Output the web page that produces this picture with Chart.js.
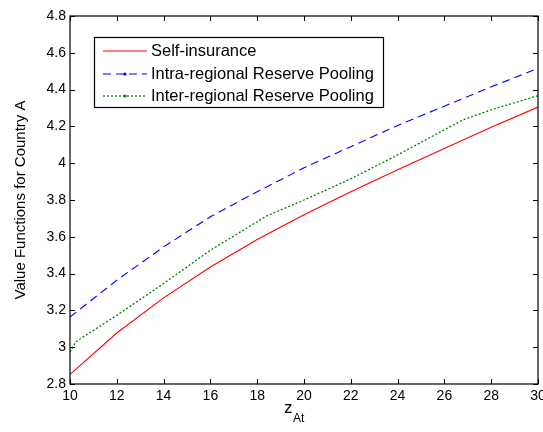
<!DOCTYPE html>
<html><head><meta charset="utf-8">
<script src="https://cdn.jsdelivr.net/npm/chart.js@4"></script>
<style>html,body{margin:0;padding:0;background:#fff}#w{width:543px;height:432px}</style>
</head><body><div id="w"><canvas id="c" width="543" height="432"></canvas></div>
<script>
const selfX = [10, 12, 14, 16, 18, 20, 22, 24, 26, 28, 30];
const selfY = [2.852, 3.077, 3.268, 3.436, 3.585, 3.72, 3.845, 3.965, 4.08, 4.195, 4.305];
const intraX = [10, 12, 14, 16, 18, 20, 22, 24, 26, 28, 30];
const intraY = [3.164, 3.364, 3.545, 3.709, 3.845, 3.975, 4.09, 4.205, 4.31, 4.415, 4.515];
const interX = [10, 10.25, 12, 14, 16, 18.4, 20, 22, 24, 26.8, 28, 30];
const interY = [2.973, 3.03, 3.173, 3.346, 3.527, 3.713, 3.80, 3.915, 4.045, 4.236, 4.29, 4.367];
const xTicks = [10, 12, 14, 16, 18, 20, 22, 24, 26, 28, 30];
const yTicks = [2.8, 3, 3.2, 3.4, 3.6, 3.8, 4, 4.2, 4.4, 4.6, 4.8];
const seriesNames = ['Self-insurance', 'Intra-regional Reserve Pooling', 'Inter-regional Reserve Pooling'];
const yTitle = 'Value Functions for Country A';

const FONT = '"Liberation Sans", Arial, sans-serif';
const pts = (xs, ys) => xs.map((x, i) => ({x, y: ys[i]}));

const styles = [
  {color: '#ff0000', dash: [], width: 1.1, dot: false},
  {color: '#0000ff', dash: [8, 5], width: 1.1, dot: true},
  {color: '#008000', dash: [2, 2], width: 1.3, dot: true}
];

const framePlugin = {
  id: 'frame',
  afterDraw(chart) {
    const ctx = chart.ctx, a = chart.chartArea;
    const xs = chart.scales.x, ys = chart.scales.y;
    ctx.save();
    ctx.strokeStyle = '#000';
    ctx.lineWidth = 1.2;
    ctx.strokeRect(a.left, a.top, a.right - a.left, a.bottom - a.top);
    ctx.lineWidth = 1;
    ctx.beginPath();
    const tl = 5;
    xTicks.forEach(v => {
      const px = Math.round(xs.getPixelForValue(v)) + 0.5;
      ctx.moveTo(px, a.bottom); ctx.lineTo(px, a.bottom - tl);
      ctx.moveTo(px, a.top); ctx.lineTo(px, a.top + tl);
    });
    yTicks.forEach(v => {
      const py = Math.round(ys.getPixelForValue(v)) + 0.5;
      ctx.moveTo(a.left, py); ctx.lineTo(a.left + tl, py);
      ctx.moveTo(a.right, py); ctx.lineTo(a.right - tl, py);
    });
    ctx.stroke();
    // x title with subscript
    ctx.fillStyle = '#000';
    ctx.textBaseline = 'alphabetic';
    ctx.textAlign = 'left';
    ctx.font = '17px ' + FONT;
    const cx = 284;
    ctx.fillText('z', cx, 413);
    ctx.font = '12px ' + FONT;
    ctx.fillText('At', cx + 9, 422);
    // y title
    ctx.save();
    ctx.translate(25, (a.top + a.bottom) / 2);
    ctx.rotate(-Math.PI / 2);
    ctx.textAlign = 'center';
    ctx.font = '15px ' + FONT;
    ctx.fillText(yTitle, 0, 0);
    ctx.restore();
    // legend
    const bx = 94.5, by = 37.5, bw = 289, bh = 70;
    ctx.fillStyle = '#fff';
    ctx.fillRect(bx, by, bw, bh);
    ctx.strokeStyle = '#000';
    ctx.lineWidth = 1.2;
    ctx.strokeRect(bx, by, bw, bh);
    const rows = [51, 74, 96];
    seriesNames.forEach((n, i) => {
      const s = styles[i];
      ctx.save();
      ctx.strokeStyle = s.color;
      ctx.lineWidth = s.width;
      ctx.setLineDash(s.dash);
      ctx.beginPath();
      ctx.moveTo(103, rows[i]); ctx.lineTo(147, rows[i]);
      ctx.stroke();
      ctx.restore();
      if (s.dot) {
        ctx.fillStyle = s.color;
        ctx.beginPath(); ctx.arc(125, rows[i], 1.6, 0, Math.PI * 2); ctx.fill();
      }
      ctx.fillStyle = '#000';
      ctx.font = '16.5px ' + FONT;
      ctx.textAlign = 'left';
      ctx.textBaseline = 'middle';
      ctx.fillText(n, 151, rows[i] + 0.5);
    });
    ctx.restore();
  }
};

new Chart(document.getElementById('c'), {
  type: 'line',
  data: {
    datasets: [
      {label: seriesNames[0], data: pts(selfX, selfY)},
      {label: seriesNames[1], data: pts(intraX, intraY)},
      {label: seriesNames[2], data: pts(interX, interY)}
    ].map((d, i) => Object.assign(d, {
      borderColor: styles[i].color, borderWidth: styles[i].width,
      borderDash: styles[i].dash, pointRadius: 0, tension: 0, fill: false
    }))
  },
  options: {
    responsive: false, animation: false, devicePixelRatio: 1,
    layout: {padding: {left: 0, right: 5, top: 16, bottom: 0}},
    plugins: {legend: {display: false}, tooltip: {enabled: false}},
    scales: {
      x: {
        type: 'linear', min: 10, max: 30,
        afterBuildTicks: s => { s.ticks = xTicks.map(v => ({value: v})); },
        afterFit: s => { s.height = 48; s.paddingRight = 0; s.paddingLeft = 0; },
        grid: {display: false, drawTicks: false},
        border: {display: false},
        ticks: {color: '#000', font: {family: FONT, size: 14}, padding: 4, maxRotation: 0,
          callback: v => String(v)}
      },
      y: {
        type: 'linear', min: 2.8, max: 4.8,
        afterBuildTicks: s => { s.ticks = yTicks.map(v => ({value: v})); },
        afterFit: s => { s.width = 70; s.paddingTop = 0; s.paddingBottom = 0; },
        grid: {display: false, drawTicks: false},
        border: {display: false},
        ticks: {color: '#000', font: {family: FONT, size: 14}, padding: 4,
          callback: v => String(Math.round(v * 10) / 10)}
      }
    }
  },
  plugins: [framePlugin]
});
</script></body></html>
